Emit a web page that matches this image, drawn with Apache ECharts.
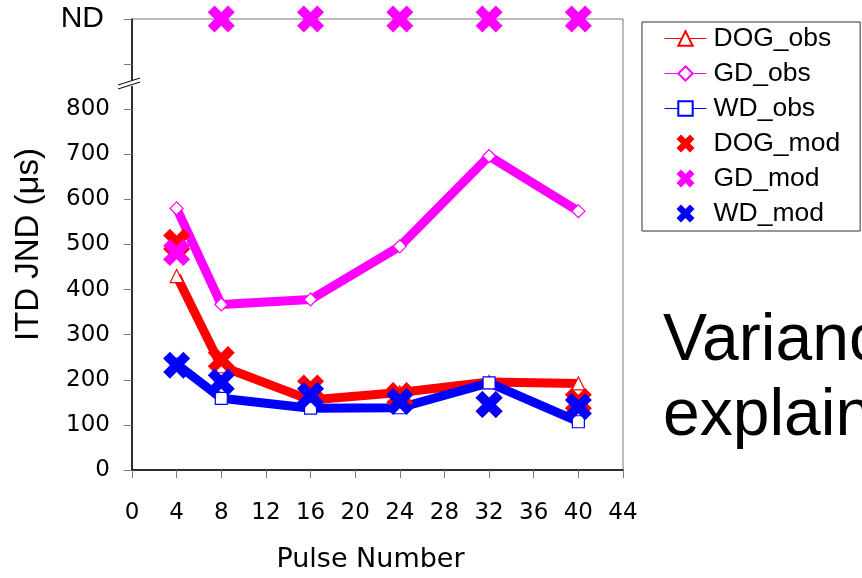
<!DOCTYPE html>
<html><head><meta charset="utf-8">
<script src="https://cdn.jsdelivr.net/npm/echarts@6/dist/echarts.min.js"></script>
<style>html,body{margin:0;padding:0;background:#fff;overflow:hidden}#c{width:862px;height:578px}</style>
</head><body><div id="c"></div>
<script>
const pulses = [4, 8, 16, 24, 32, 40];
const ND = 1000;
const dogObs = [430, 230, 155, 172, 195, 192];
const gdObs  = [580, 367, 378, 496, 696, 574];
const wdObs  = [235, 159, 137, 138, 193, 107];
const dogMod = [505, 245, 182, 165, 145, 152];
const gdMod  = [482, ND, ND, ND, ND, ND];
const wdMod  = [232, 195, 165, 152, 145, 140];
const yTicks = {900: '', 1000: 'ND'};
const xPath = 'path://M0,2.5 L2.5,0 L5,2.5 L7.5,0 L10,2.5 L7.5,5 L10,7.5 L7.5,10 L5,7.5 L2.5,10 L0,7.5 L2.5,5 Z';
const arial = 'Liberation Sans';
const wide = 'DejaVu Sans';

function pts(v){ return pulses.map((p,i)=>[p, v[i]]); }
function obs(name, data, color, symbol, size){
  return {name, type:'line', data: pts(data), symbol, symbolSize: size, clip:false,
    lineStyle:{color, width:9}, itemStyle:{color:'#fff', borderColor:color, borderWidth:1.2, opacity:1},
    emphasis:{disabled:true}, z:2};
}
function mod(name, data, color){
  return {name, type:'scatter', data: pts(data), symbol: xPath, symbolSize: 27, clip:false,
    itemStyle:{color, opacity:1}, emphasis:{disabled:true}, z:3};
}
const chart = echarts.init(document.getElementById('c'));
chart.setOption({
  animation:false,
  textStyle:{fontFamily:arial},
  grid:{left:132, width:491, top:19, height:459, show:true, borderColor:'#777', borderWidth:1},
  xAxis:{type:'value', min:0, max:44, interval:4,
    name:'Pulse Number', nameLocation:'middle', nameGap:76,
    nameTextStyle:{fontSize:27, color:'#000', fontFamily:wide, padding:[0,14,0,0]},
    axisLine:{lineStyle:{color:'#000', width:1.5}},
    axisTick:{show:true, length:8, lineStyle:{color:'#777'}},
    axisLabel:{fontSize:23, color:'#000', margin:32, fontFamily:wide},
    splitLine:{show:false}},
  yAxis:{type:'value', min:0, max:1000, interval:100,
    name:'ITD JND (μs)', nameLocation:'middle', nameGap:87, nameRotate:90,
    nameTextStyle:{fontSize:33, color:'#000', fontFamily:arial},
    axisLine:{lineStyle:{color:'#000', width:1.5}},
    axisTick:{show:true, length:8, lineStyle:{color:'#777'}},
    axisLabel:{fontSize:23, color:'#000', margin:22, fontFamily:wide,
      formatter: v => (v in yTicks ? (yTicks[v] ? '{nd|' + yTicks[v] + '}' : '') : String(v)),
      rich:{nd:{fontSize:30, fontFamily:arial, color:'#000', padding:[0,6,0,0]}}},
    splitLine:{show:false}},
  legend:{orient:'vertical', left:642, top:22,
    padding:[3,20,4,22], itemGap:8, itemWidth:42, itemHeight:18,
    borderColor:'#333', borderWidth:1,
    textStyle:{fontSize:26.5, color:'#000', fontFamily:arial, padding:[0,0,0,2]},
    data:[
      {name:'DOG_obs', lineStyle:{width:1}},
      {name:'GD_obs', lineStyle:{width:1}},
      {name:'WD_obs', lineStyle:{width:1}},
      {name:'DOG_mod'}, {name:'GD_mod'}, {name:'WD_mod'}
    ]},
  series:[
    obs('DOG_obs', dogObs, '#ff0000', 'triangle', 13),
    obs('GD_obs', gdObs, '#ff00ff', 'diamond', 13),
    obs('WD_obs', wdObs, '#0000ff', 'rect', 12),
    mod('DOG_mod', dogMod, '#ff0000'),
    mod('GD_mod', gdMod, '#ff00ff'),
    mod('WD_mod', wdMod, '#0000ff')
  ]
});
const b = chart.convertToPixel({gridIndex:0}, [0, 858]);
chart.setOption({graphic:[
  {type:'rect', shape:{x:b[0]-3, y:b[1]-3, width:6, height:6}, style:{fill:'#fff'}, z:10},
  {type:'line', shape:{x1:b[0]-14, y1:b[1]+2, x2:b[0]+8, y2:b[1]-5}, style:{stroke:'#000', lineWidth:1}, z:11},
  {type:'line', shape:{x1:b[0]-14, y1:b[1]+6, x2:b[0]+8, y2:b[1]-1}, style:{stroke:'#000', lineWidth:1}, z:11},
  {type:'text', left:663, top:304, style:{text:'Variance\nexplained', font:'66px "Liberation Sans"', fill:'#000', lineHeight:75}, z:5}
]});
</script>
</body></html>
